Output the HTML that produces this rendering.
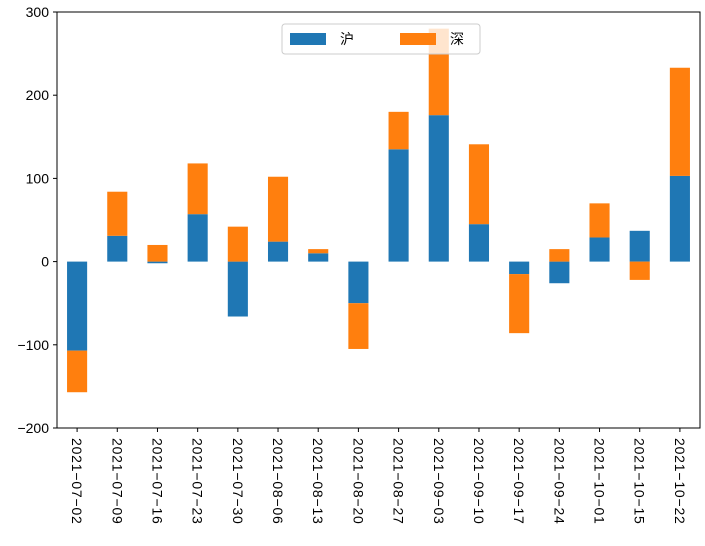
<!DOCTYPE html>
<html><head><meta charset="utf-8"><style>
body{margin:0;background:#fff;}
svg{display:block;font-family:"Liberation Sans","Noto Sans CJK SC",sans-serif;}
</style></head><body>
<svg id="chart" width="705" height="546"></svg>
<script>
const categories=["2021-07-02","2021-07-09","2021-07-16","2021-07-23","2021-07-30","2021-08-06","2021-08-13","2021-08-20","2021-08-27","2021-09-03","2021-09-10","2021-09-17","2021-09-24","2021-10-01","2021-10-15","2021-10-22"];
const huValues=[-107,31,-2,57,-66,24,10,-50,135,176,45,-15,-26,29,37,103];
const shenValues=[-50,53,20,61,42,78,5,-55,45,104,96,-71,15,41,-22,130];
const yTicks=[-200,-100,0,100,200,300];
const seriesNames=["沪","深"];
const NS="http://www.w3.org/2000/svg";
const svg=document.getElementById('chart');
const L=57,R=700,T=12,B=428,yMin=-200,yMax=300;
const y=v=>B-(v-yMin)/(yMax-yMin)*(B-T);
const band=(R-L)/categories.length;
const xc=i=>L+band*(i+0.5);
const bw=band*0.5;
function mk(tag,attrs){const e=document.createElementNS(NS,tag);for(const k in attrs)e.setAttribute(k,attrs[k]);svg.appendChild(e);return e;}
const colors=["#1f77b4","#ff7f0e"];
categories.forEach((c,i)=>{
  let pos=0,neg=0;
  [huValues[i],shenValues[i]].forEach((v,s)=>{
    let base=v>=0?pos:neg;let top=base+v;
    if(v>=0)pos=top;else neg=top;
    const r=mk('rect',{x:xc(i)-bw/2,y:Math.min(y(base),y(top)),width:bw,height:Math.abs(y(top)-y(base)),fill:colors[s]});
    
    
  });
  const tx=xc(i);
  mk('line',{x1:tx,x2:tx,y1:B,y2:B+4,stroke:'#000'});
  const t=mk('text',{x:0,y:0,transform:`translate(${tx-5},${B+10}) rotate(90)`,'font-size':'14','letter-spacing':'0.8'});
  t.textContent=c.replace(/-/g,'\u2212');
  
  
});
yTicks.forEach(v=>{
  mk('line',{x1:L-4,x2:L,y1:y(v),y2:y(v),stroke:'#000'});
  const t=mk('text',{x:L-8,y:y(v)+5,'text-anchor':'end','font-size':'14'});
  t.textContent=String(v).replace('-','\u2212');
  
  
});
const frame=mk('rect',{x:L,y:T,width:R-L,height:B-T,fill:'none',stroke:'#000','stroke-width':1});


const lg=mk('rect',{x:282,y:24,width:198,height:30,rx:3,fill:'#fff','fill-opacity':0.8,stroke:'#ccc'});


seriesNames.forEach((n,s)=>{
  const ox=290+s*110;
  const p=mk('rect',{x:ox,y:33,width:36,height:12,fill:colors[s]});
  
  
  const t=mk('text',{x:ox+50,y:44,'font-size':'14'});
  t.textContent=n;
  
  
});
</script>
</body></html>
